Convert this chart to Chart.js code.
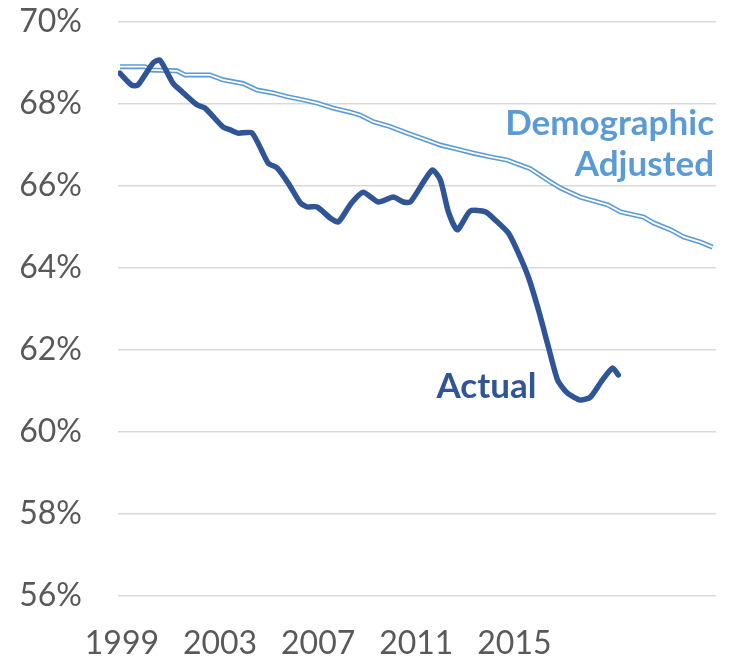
<!DOCTYPE html>
<html>
<head>
<meta charset="utf-8">
<script src="https://cdn.jsdelivr.net/npm/chart.js@4.4.1/dist/chart.umd.min.js"></script>
<style>
  html,body{margin:0;padding:0;background:#fff;}
  #wrap{width:730px;height:661px;}
</style>
</head>
<body>
<div id="wrap"><canvas id="c" width="730" height="661"></canvas></div>
<script>
// values (year, participation %)
const actualYears  = [1998.92,1999.40,1999.65,2000.27,2000.55,2001.08,2001.45,2002.06,2002.39,2003.12,2003.41,2003.73,2004.31,2004.96,2005.33,2005.78,2006.27,2006.55,2006.96,2007.49,2007.82,2008.35,2008.84,2009.45,2010.06,2010.47,2010.76,2011.65,2011.98,2012.31,2012.67,2013.20,2013.82,2014.22,2014.76,2015.16,2015.57,2015.98,2016.39,2016.76,2017.16,2017.69,2018.10,2018.59,2019.00,2019.24];
const actualValues = [68.75,68.46,68.46,69.00,69.07,68.51,68.30,67.98,67.90,67.44,67.37,67.29,67.29,66.56,66.44,66.07,65.59,65.49,65.49,65.22,65.12,65.58,65.85,65.61,65.73,65.61,65.61,66.39,66.15,65.37,64.93,65.39,65.37,65.17,64.85,64.37,63.78,62.98,62.07,61.27,60.95,60.78,60.85,61.27,61.56,61.39];

const demoYears  = [1998.92,1999.94,2000.14,2001.24,2001.57,2002.59,2003.12,2003.94,2004.51,2005.16,2005.73,2006.39,2006.96,2007.61,2008.31,2008.71,2009.24,2009.94,2010.63,2011.29,2011.98,2012.67,2013.33,2014.02,2014.71,2015.65,2016.47,2016.88,2017.69,2018.80,2019.33,2020.27,2020.67,2021.37,2021.90,2022.59,2023.08];
const demoValues = [68.91,68.91,68.83,68.81,68.71,68.71,68.59,68.50,68.34,68.27,68.18,68.10,68.02,67.90,67.80,67.73,67.57,67.45,67.29,67.15,67.00,66.90,66.80,66.71,66.63,66.42,66.10,65.95,65.73,65.54,65.37,65.24,65.10,64.93,64.76,64.63,64.51];

const xTickYears = [1999,2003,2007,2011,2015];
const yMin = 56, yMax = 70, yStep = 2;

const DARK = '#2F5597';
const LIGHT = '#5B9BD5';
const FONT = "Lato, 'Open Sans', sans-serif";

const pts = (xs,ys)=>xs.map((x,i)=>({x:x,y:ys[i]}));

// series names drawn next to the lines, anchored in data units
const seriesLabels = {
  id:'seriesLabels',
  afterDatasetsDraw(chart){
    const {ctx,scales:{x,y}} = chart;
    ctx.save();
    ctx.font = "bold 35px " + FONT;
    ctx.textBaseline = 'middle';
    ctx.textAlign = 'right';
    ctx.fillStyle = LIGHT;
    ctx.fillText('Demographic', x.right - 2, y.getPixelForValue(67.53));
    ctx.fillText('Adjusted', x.right - 2, y.getPixelForValue(66.53));
    ctx.fillStyle = DARK;
    ctx.fillText('Actual', x.getPixelForValue(2015.9), y.getPixelForValue(61.1));
    ctx.restore();
  }
};

new Chart(document.getElementById('c'),{
  type:'line',
  data:{datasets:[
    {label:'Actual',data:pts(actualYears,actualValues),borderColor:DARK,borderWidth:5.5,
     pointRadius:0,tension:0.2,borderJoinStyle:'round',borderCapStyle:'round',order:0},
    {label:'Demographic Adjusted (inner)',data:pts(demoYears,demoValues),borderColor:'#ffffff',borderWidth:1.8,
     pointRadius:0,tension:0,order:1},
    {label:'Demographic Adjusted',data:pts(demoYears,demoValues),borderColor:LIGHT,borderWidth:5,
     pointRadius:0,tension:0,order:2}
  ]},
  options:{
    responsive:false,animation:false,
    layout:{padding:{top:22,right:14,left:0,bottom:0}},
    plugins:{legend:{display:false},tooltip:{enabled:false}},
    scales:{
      x:{type:'linear',min:1998.84,max:2023.22,
        afterBuildTicks:s=>{s.ticks=xTickYears.map(v=>({value:v}));},
        afterFit:s=>{s.height=65;s.paddingLeft=0;s.paddingRight=0;},
        grid:{display:false,drawTicks:false},border:{display:false},
        ticks:{color:'#595959',font:{family:FONT,size:32},padding:28,maxRotation:0,autoSkip:false,
          callback:v=>String(v)}},
      y:{min:yMin,max:yMax,
        afterFit:s=>{s.width=118;s.paddingTop=0;s.paddingBottom=0;},
        grid:{color:'#d9d9d9',lineWidth:1.5,drawTicks:false},border:{display:false},
        ticks:{stepSize:yStep,color:'#595959',font:{family:FONT,size:32},padding:36,
          callback:v=>v+'%'}}
    }
  },
  plugins:[seriesLabels]
});
</script>
</body>
</html>
